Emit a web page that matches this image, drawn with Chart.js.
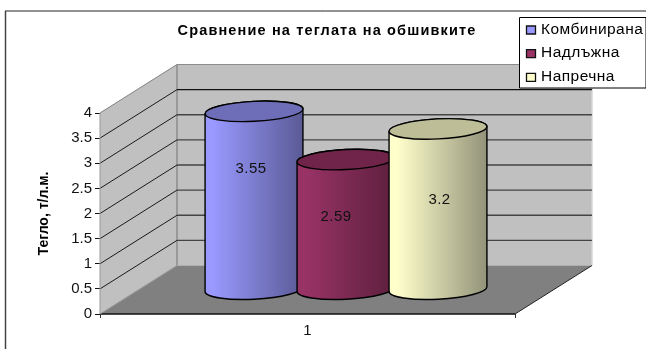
<!DOCTYPE html>
<html>
<head>
<meta charset="utf-8">
<style>
  html, body { margin: 0; padding: 0; background: #fff; }
  #wrap { position: relative; width: 646px; height: 349px; }
</style>
</head>
<body>
<div id="wrap"><canvas id="weightChart"></canvas></div>
<script src="https://cdn.jsdelivr.net/npm/chart.js@4"></script>
<script>
var categories = ['1'];
var seriesNames = ['Комбинирана', 'Надлъжна', 'Напречна'];
var combined = [3.55];
var lengthwise = [2.59];
var crosswise = [3.2];
var yTicks = [0, 0.5, 1, 1.5, 2, 2.5, 3, 3.5, 4];

var fills = ['#9999ff', '#993366', '#ffffcc'];
var tops = ['#6e6eb8', '#70244a', '#bdbd97'];
var rights = ['#5a5a96', '#5c1f3d', '#93937a'];

// depth of the 3D box, and how far the cylinders sit inside it
var depthX = 77, depthY = -48.5;
var cylX = 38.5, cylY = -24.3;
var cylOverlap = 6, cylRy = 10, cylTilt = -0.05;
// nudges for each value label, from the middle of its cylinder
var labelShiftX = [-3, -10, 1.5];
var labelLift = [55.8, 32, 33.6];

function poly(ctx, pts, fill, stroke, lw) {
  ctx.beginPath();
  ctx.moveTo(pts[0][0], pts[0][1]);
  for (var i = 1; i < pts.length; i++) ctx.lineTo(pts[i][0], pts[i][1]);
  ctx.closePath();
  if (fill) { ctx.fillStyle = fill; ctx.fill(); }
  if (stroke) { ctx.strokeStyle = stroke; ctx.lineWidth = lw || 1; ctx.stroke(); }
}

function line(ctx, x1, y1, x2, y2, color, lw) {
  ctx.beginPath();
  ctx.moveTo(x1, y1);
  ctx.lineTo(x2, y2);
  ctx.strokeStyle = color;
  ctx.lineWidth = lw || 1;
  ctx.stroke();
}

// walls, floor and gridlines of the 3D box
var boxPlugin = {
  id: 'box',
  beforeDatasetsDraw: function (chart) {
    var ctx = chart.ctx, a = chart.chartArea, y = chart.scales.y;
    var l = a.left, r = a.right, t = y.getPixelForValue(4), b = y.getPixelForValue(0);
    ctx.save();
    poly(ctx, [[l + depthX, t + depthY], [r + depthX, t + depthY], [r + depthX, b + depthY], [l + depthX, b + depthY]], '#c0c0c0');
    poly(ctx, [[l, b], [l, t], [l + depthX, t + depthY], [l + depthX, b + depthY]], '#c0c0c0');
    poly(ctx, [[l, b], [r, b], [r + depthX, b + depthY], [l + depthX, b + depthY]], '#808080');
    line(ctx, l, t, l + depthX, t + depthY, '#808080');
    line(ctx, l + depthX, t + depthY, r + depthX, t + depthY, '#8c8c8c');
    line(ctx, l + depthX, t + depthY, l + depthX, b + depthY, '#8c8c8c', 1.5);
    line(ctx, r + depthX, t + depthY, r + depthX, b + depthY, '#d4d4d4', 1.5);
    yTicks.forEach(function (v) {
      if (v === 0 || v === 4) return;
      var p = y.getPixelForValue(v);
      line(ctx, l, p, l + depthX, p + depthY, '#1a1a1a');
      line(ctx, l + depthX, p + depthY, r + depthX, p + depthY, v === 3.5 ? '#111' : '#444', 1.3);
    });
    line(ctx, l, b, r, b, '#111', 1.5);
    line(ctx, r, b, r + depthX, b + depthY, '#222');
    line(ctx, l, b, l + depthX, b + depthY, '#999');
    line(ctx, l, t, l, b, '#999');
    ctx.restore();
  }
};

function cylinder(ctx, bar, i) {
  var x = bar.x + cylX, half = bar.width / 2 + cylOverlap / 2;
  var top = bar.y + cylY, base = bar.base + cylY;
  var g = ctx.createLinearGradient(x - half, 0, x + half, 0);
  g.addColorStop(0.08, fills[i]);
  g.addColorStop(1, rights[i]);
  ctx.beginPath();
  ctx.ellipse(x, top, half, cylRy, cylTilt, Math.PI, 0, false);
  ctx.ellipse(x, base, half, cylRy, cylTilt, 0, Math.PI, false);
  ctx.closePath();
  ctx.fillStyle = g;
  ctx.fill();
  ctx.strokeStyle = '#000';
  ctx.lineWidth = 1.4;
  ctx.stroke();
  ctx.beginPath();
  ctx.ellipse(x, top, half, cylRy, cylTilt, 0, Math.PI * 2);
  ctx.fillStyle = tops[i];
  ctx.fill();
  ctx.stroke();
}

// each bar element becomes a cylinder with its value on it
var cylinderPlugin = {
  id: 'cylinders',
  afterDatasetsDraw: function (chart) {
    var ctx = chart.ctx;
    ctx.save();
    chart.data.datasets.forEach(function (ds, i) {
      cylinder(ctx, chart.getDatasetMeta(i).data[0], i);
    });
    chart.data.datasets.forEach(function (ds, i) {
      var bar = chart.getDatasetMeta(i).data[0];
      ctx.fillStyle = '#111';
      ctx.font = '15px "Liberation Sans"';
      ctx.letterSpacing = '0.4px';
      ctx.textAlign = 'center';
      ctx.textBaseline = 'middle';
      ctx.fillText(String(ds.data[0]), bar.x + cylX + labelShiftX[i], (bar.y + bar.base) / 2 - labelLift[i]);
    });
    ctx.letterSpacing = '0px';
    ctx.restore();
  }
};

// outer frame, heading and legend box
var framePlugin = {
  id: 'frame',
  afterDraw: function (chart) {
    var ctx = chart.ctx;
    ctx.save();
    line(ctx, 5, 11, 646, 11, '#222', 1);
    line(ctx, 5.5, 11, 5.5, 349, '#444', 1.5);
    ctx.fillStyle = '#000';
    ctx.textBaseline = 'middle';
    ctx.textAlign = 'center';
    ctx.font = 'bold 14.5px "Liberation Sans"';
    ctx.letterSpacing = '1.15px';
    ctx.fillText('Сравнение на теглата на обшивките', 327, 30.5);
    poly(ctx, [[519.5, 17.5], [646, 17.5], [646, 88], [519.5, 88]], '#fff', '#000', 1);
    ctx.textAlign = 'left';
    ctx.font = '15.5px "Liberation Sans"';
    ctx.letterSpacing = '0.45px';
    chart.data.datasets.forEach(function (ds, i) {
      var ly = 30 + i * 23.7;
      poly(ctx, [[526.5, ly - 4], [535.5, ly - 4], [535.5, ly + 4], [526.5, ly + 4]], fills[i], '#111', 1.3);
      ctx.fillStyle = '#000';
      ctx.fillText(ds.label, 541, ly - 0.5);
    });
    ctx.letterSpacing = '0px';
    ctx.restore();
  }
};

new Chart(document.getElementById('weightChart'), {
  type: 'bar',
  data: {
    labels: categories,
    datasets: [
      { label: seriesNames[0], data: combined, backgroundColor: 'rgba(0,0,0,0)' },
      { label: seriesNames[1], data: lengthwise, backgroundColor: 'rgba(0,0,0,0)' },
      { label: seriesNames[2], data: crosswise, backgroundColor: 'rgba(0,0,0,0)' }
    ]
  },
  options: {
    responsive: true,
    maintainAspectRatio: false,
    animation: false,
    datasets: { bar: { categoryPercentage: 0.665, barPercentage: 1 } },
    layout: { padding: { left: 0, right: 131, top: 113, bottom: 0 } },
    plugins: { legend: { display: false }, title: { display: false }, tooltip: { enabled: false } },
    scales: {
      x: {
        afterFit: function (s) { s.height = 35; },
        grid: { display: true, drawOnChartArea: false, tickLength: 4, tickColor: '#333' },
        border: { display: false },
        ticks: { color: '#111', font: { family: 'Liberation Sans', size: 15 }, padding: 4 }
      },
      y: {
        min: 0,
        max: 4,
        afterFit: function (s) { s.width = 100; },
        afterBuildTicks: function (s) { s.ticks = yTicks.map(function (v) { return { value: v }; }); },
        grid: { display: true, drawOnChartArea: false, tickLength: 5, tickColor: '#111' },
        border: { display: false },
        title: {
          display: true,
          text: 'Тегло, т/л.м.',
          color: '#000',
          font: { family: 'Liberation Sans', size: 14, weight: 'bold' },
          padding: { top: 35.6, bottom: 0 }
        },
        ticks: {
          color: '#111',
          font: { family: 'Liberation Sans', size: 15 },
          padding: 3,
          callback: function (v) { return String(v); }
        }
      }
    }
  },
  plugins: [boxPlugin, cylinderPlugin, framePlugin]
});
</script>
</body>
</html>
